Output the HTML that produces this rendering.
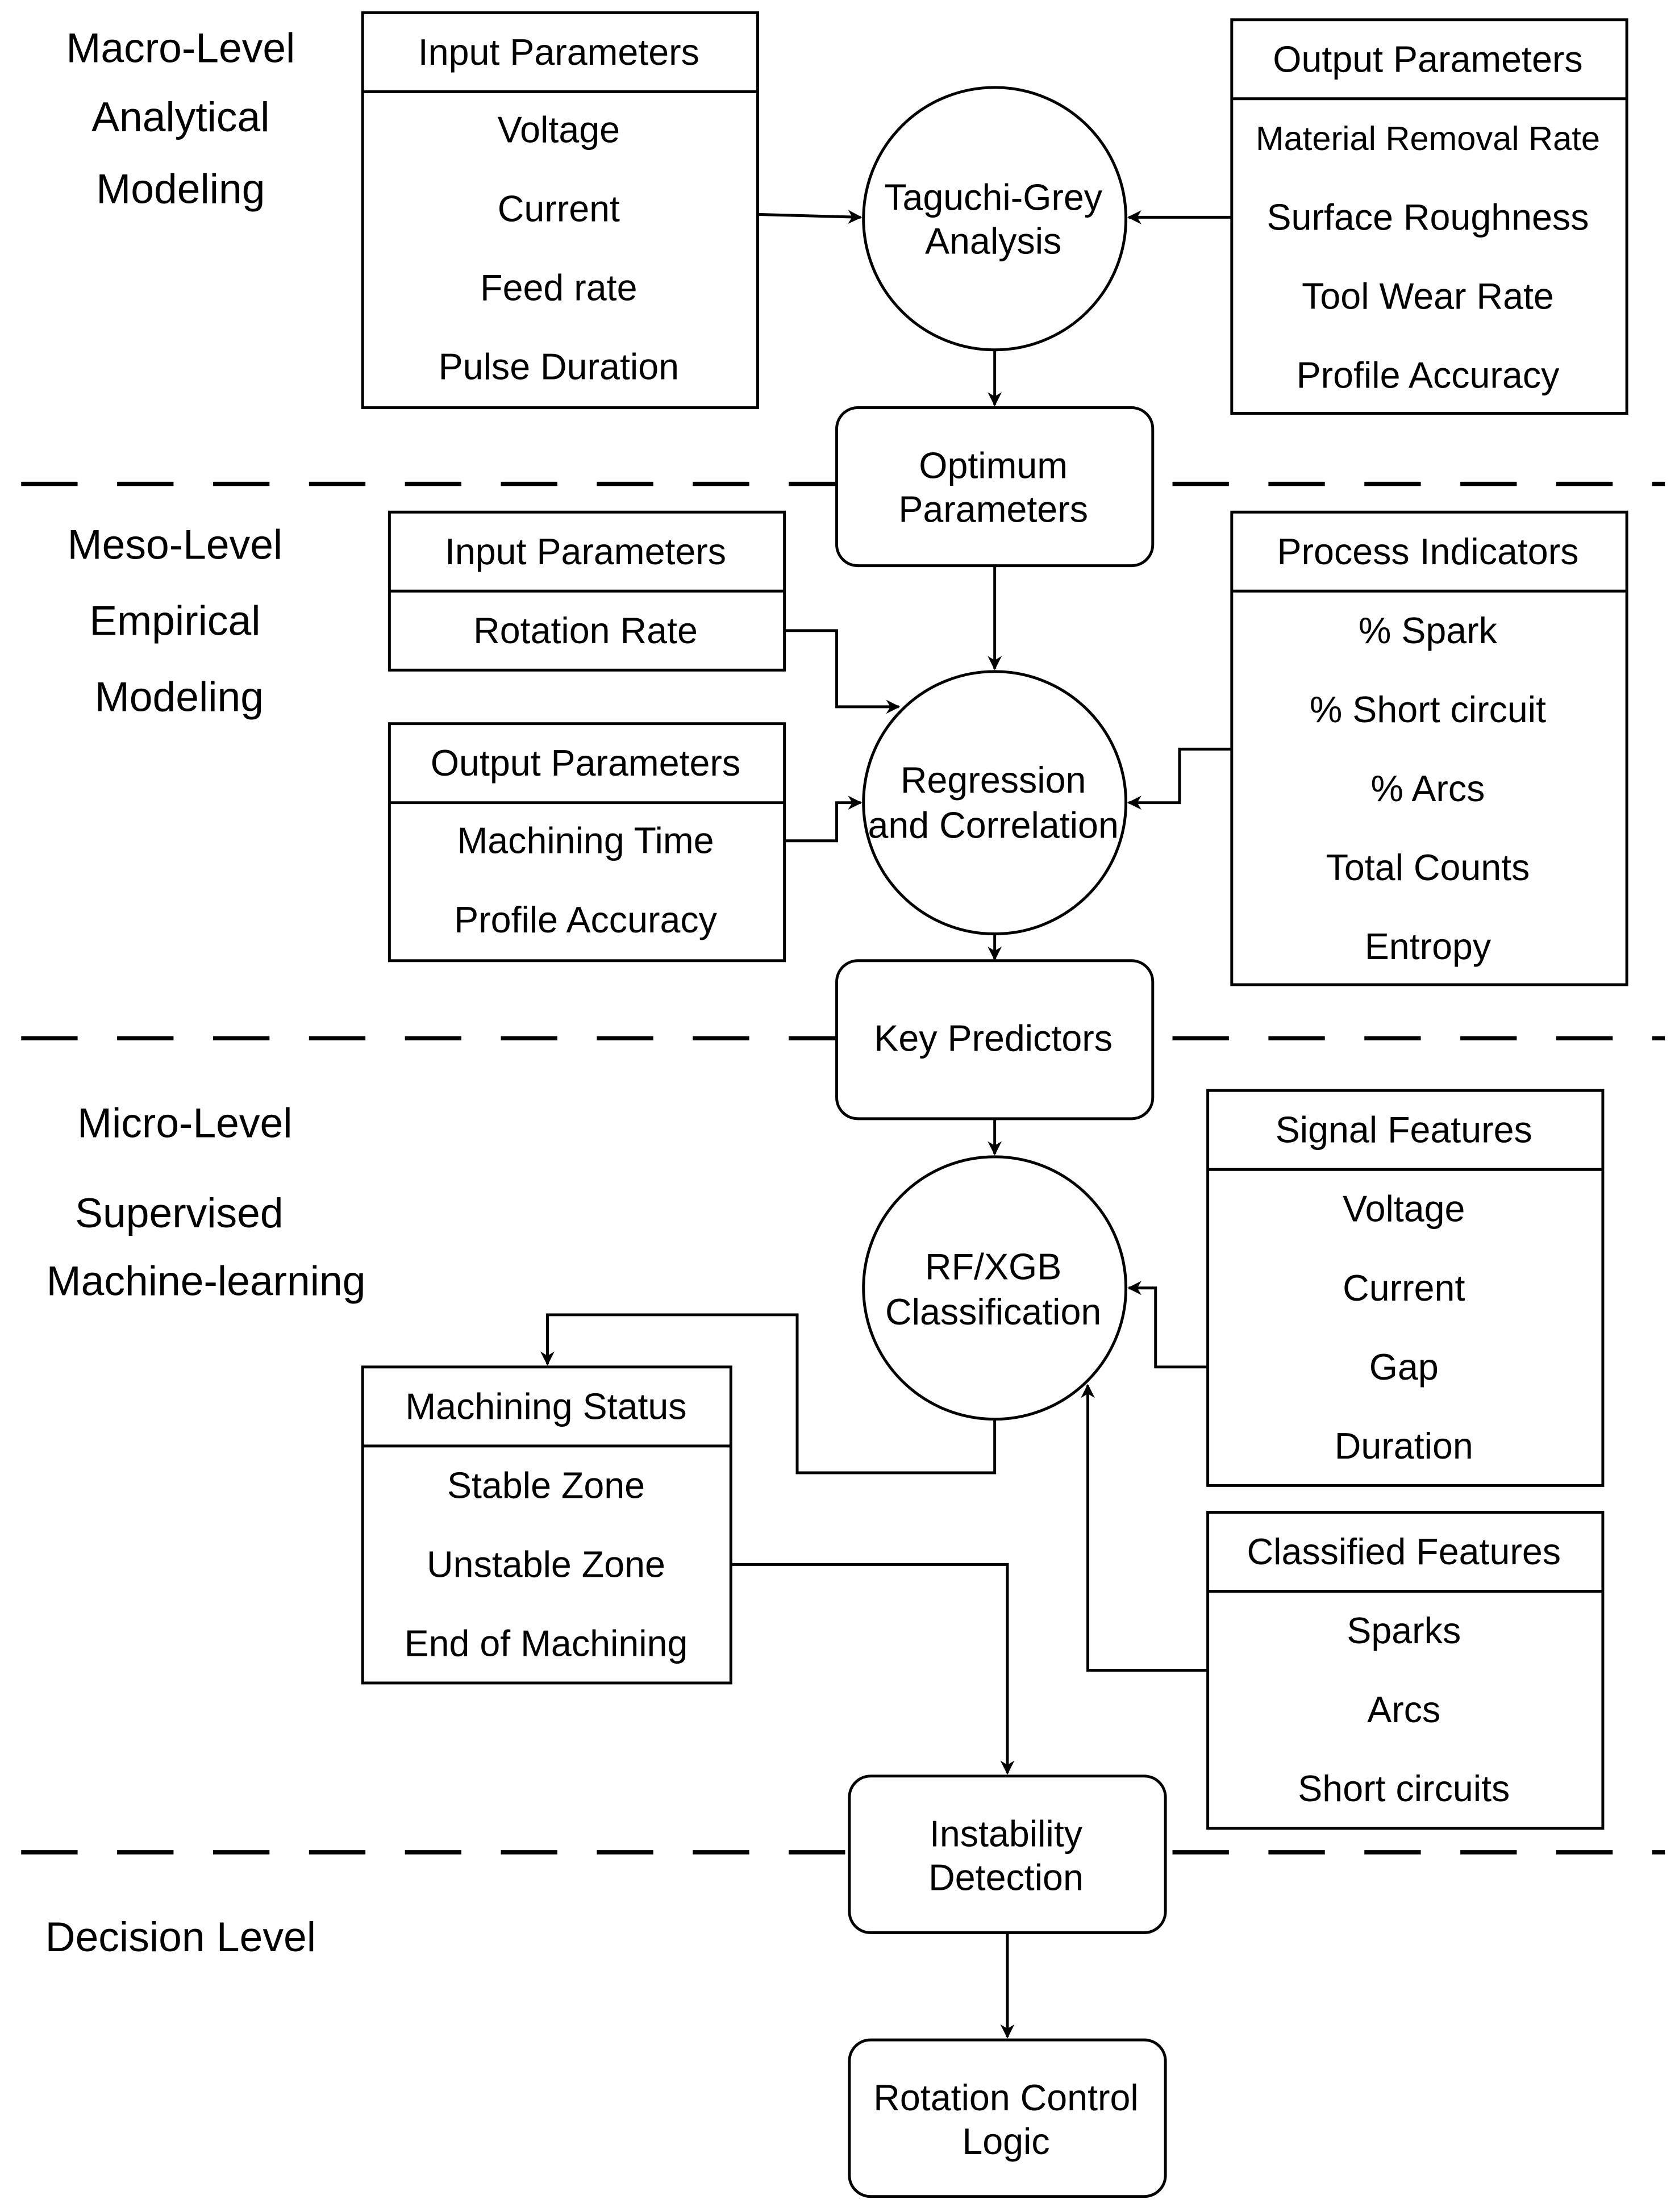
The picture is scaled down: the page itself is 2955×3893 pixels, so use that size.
<!DOCTYPE html>
<html><head><meta charset="utf-8"><style>html,body{margin:0;padding:0;background:#fff}svg{display:block}text{font-family:"Liberation Sans",Arial,sans-serif;fill:#000}</style></head><body>
<svg width="2955" height="3893" viewBox="0 0 1190 1568" preserveAspectRatio="none" xmlns="http://www.w3.org/2000/svg">
<defs><marker id="a" markerWidth="10" markerHeight="10" refX="9" refY="5" orient="auto" markerUnits="userSpaceOnUse"><path d="M0,0 L10,5 L0,10 L3,5 z" fill="#000"/></marker></defs>
<rect width="1190" height="1568" fill="#fff"/>
<g stroke="#000" stroke-width="3" stroke-dasharray="40,28">
<line x1="15" y1="343" x2="1180" y2="343"/><line x1="15" y1="736" x2="1180" y2="736"/><line x1="15" y1="1313" x2="1180" y2="1313"/>
</g>
<g stroke="#000" stroke-width="2" fill="none">
<line x1="537" y1="152" x2="610" y2="154" marker-end="url(#a)"/>
<line x1="873" y1="154" x2="800" y2="154" marker-end="url(#a)"/>
<line x1="705" y1="248" x2="705" y2="287" marker-end="url(#a)"/>
<line x1="705" y1="401" x2="705" y2="474" marker-end="url(#a)"/>
<polyline points="556,447 593,447 593,501 637,501" marker-end="url(#a)"/>
<polyline points="556,596 593,596 593,569 610,569" marker-end="url(#a)"/>
<polyline points="873,531 836,531 836,569 800,569" marker-end="url(#a)"/>
<line x1="705" y1="662" x2="705" y2="680" marker-end="url(#a)"/>
<line x1="705" y1="793" x2="705" y2="818" marker-end="url(#a)"/>
<polyline points="856,969 819,969 819,913 800,913" marker-end="url(#a)"/>
<polyline points="856,1184 771,1184 771,982" marker-end="url(#a)"/>
<polyline points="705,1006 705,1044 565,1044 565,932 388,932 388,967" marker-end="url(#a)"/>
<polyline points="518,1109 714,1109 714,1257" marker-end="url(#a)"/>
<line x1="714" y1="1370" x2="714" y2="1444" marker-end="url(#a)"/>
</g>
<g stroke="#000" stroke-width="2" fill="#fff">
<rect x="257" y="9" width="280" height="280"/><line x1="257" y1="65" x2="537" y2="65"/>
<rect x="873" y="14" width="280" height="279"/><line x1="873" y1="70" x2="1153" y2="70"/>
<circle cx="705" cy="155" r="93"/>
<rect x="593" y="289" width="224" height="112" rx="15"/>
<rect x="276" y="363" width="280" height="112"/><line x1="276" y1="419" x2="556" y2="419"/>
<rect x="276" y="513" width="280" height="168"/><line x1="276" y1="569" x2="556" y2="569"/>
<rect x="873" y="363" width="280" height="335"/><line x1="873" y1="419" x2="1153" y2="419"/>
<circle cx="705" cy="569" r="93"/>
<rect x="593" y="681" width="224" height="112" rx="15"/>
<rect x="856" y="773" width="280" height="280"/><line x1="856" y1="829" x2="1136" y2="829"/>
<rect x="856" y="1072" width="280" height="224"/><line x1="856" y1="1128" x2="1136" y2="1128"/>
<circle cx="705" cy="913" r="93"/>
<rect x="257" y="969" width="261" height="224"/><line x1="257" y1="1025" x2="518" y2="1025"/>
<rect x="602" y="1259" width="224" height="111" rx="15"/>
<rect x="602" y="1446" width="224" height="111" rx="15"/>
</g>
<g font-size="29.5" text-anchor="middle" dominant-baseline="central">
<text x="128" y="34">Macro-Level</text><text x="128" y="83">Analytical</text><text x="128" y="134">Modeling</text>
<text x="124" y="386">Meso-Level</text><text x="124" y="440">Empirical</text><text x="127" y="494">Modeling</text>
<text x="131" y="796">Micro-Level</text><text x="127" y="860">Supervised</text><text x="146" y="908">Machine-learning</text>
<text x="128" y="1373">Decision Level</text>
</g>
<g font-size="26" text-anchor="middle" dominant-baseline="central">
<text x="396" y="37">Input Parameters</text><text x="396" y="92">Voltage</text><text x="396" y="148">Current</text><text x="396" y="204">Feed rate</text><text x="396" y="260">Pulse Duration</text>
<text x="1012" y="42">Output Parameters</text><text x="1012" y="98" font-size="24">Material Removal Rate</text><text x="1012" y="154">Surface Roughness</text><text x="1012" y="210">Tool Wear Rate</text><text x="1012" y="266">Profile Accuracy</text>
<text x="704" y="140">Taguchi-Grey</text><text x="704" y="171">Analysis</text>
<text x="704" y="330">Optimum</text><text x="704" y="361">Parameters</text>
<text x="415" y="391">Input Parameters</text><text x="415" y="447">Rotation Rate</text>
<text x="415" y="541">Output Parameters</text><text x="415" y="596">Machining Time</text><text x="415" y="652">Profile Accuracy</text>
<text x="1012" y="391">Process Indicators</text><text x="1012" y="447">% Spark</text><text x="1012" y="503">% Short circuit</text><text x="1012" y="559">% Arcs</text><text x="1012" y="615">Total Counts</text><text x="1012" y="671">Entropy</text>
<text x="704" y="553">Regression</text><text x="704" y="585">and Correlation</text>
<text x="704" y="736">Key Predictors</text>
<text x="995" y="801">Signal Features</text><text x="995" y="857">Voltage</text><text x="995" y="913">Current</text><text x="995" y="969">Gap</text><text x="995" y="1025">Duration</text>
<text x="704" y="898">RF/XGB</text><text x="704" y="930">Classification</text>
<text x="995" y="1100">Classified Features</text><text x="995" y="1156">Sparks</text><text x="995" y="1212">Arcs</text><text x="995" y="1268">Short circuits</text>
<text x="387" y="997">Machining Status</text><text x="387" y="1053">Stable Zone</text><text x="387" y="1109">Unstable Zone</text><text x="387" y="1165">End of Machining</text>
<text x="713" y="1300">Instability</text><text x="713" y="1331">Detection</text>
<text x="713" y="1487">Rotation Control</text><text x="713" y="1518">Logic</text>
</g>
</svg>
</body></html>
